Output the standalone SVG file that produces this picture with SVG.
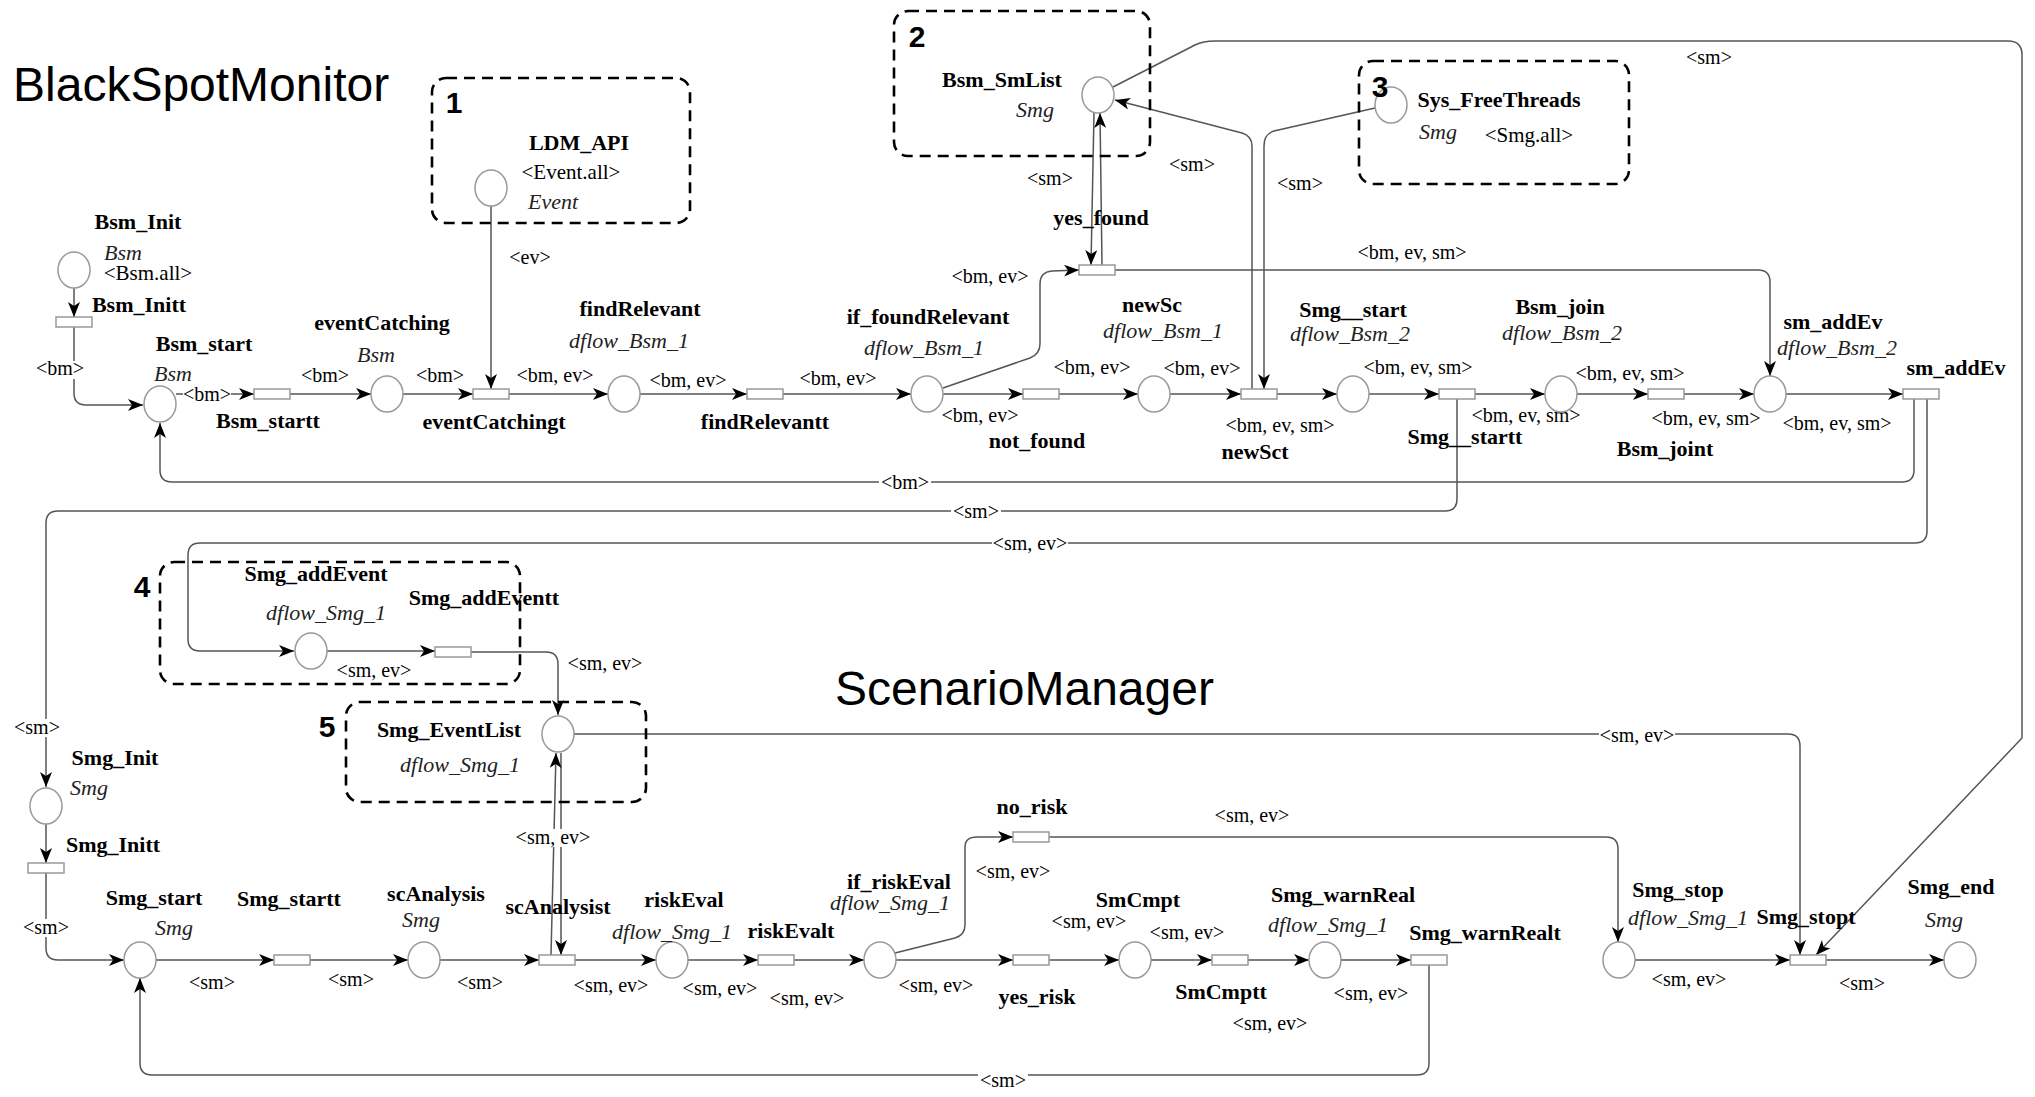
<svg xmlns="http://www.w3.org/2000/svg" width="2035" height="1097" viewBox="0 0 2035 1097">
<defs>
<marker id="ah" markerWidth="16" markerHeight="12" refX="15" refY="6" orient="auto" markerUnits="userSpaceOnUse"><path d="M0,0 L15,6 L0,12 L4,6 Z" fill="#000"/></marker>
<style>
.e{fill:none;stroke:#555;stroke-width:1.5}
.a{marker-end:url(#ah)}
.p{fill:#fff;stroke:#999;stroke-width:1.5}
.t{fill:#fff;stroke:#999;stroke-width:1.5}
.bg{fill:#fff;stroke:none}
.box{fill:none;stroke:#000;stroke-width:2.6;stroke-dasharray:11 7}
.n{font-family:"Liberation Serif",serif;font-weight:bold;font-size:22px;text-anchor:middle;fill:#000}
.i{font-family:"Liberation Serif",serif;font-style:italic;font-size:22px;text-anchor:middle;fill:#222}
.m{font-family:"Liberation Serif",serif;font-size:21px;text-anchor:middle;fill:#000}
.l{font-family:"Liberation Serif",serif;font-size:20px;text-anchor:middle;fill:#000}
.title{font-family:"Liberation Sans",Arial,sans-serif;font-size:48px;fill:#000}
.num{font-family:"Liberation Sans",Arial,sans-serif;font-weight:bold;font-size:30px;text-anchor:middle;fill:#000}
</style>
</defs>
<rect width="2035" height="1097" fill="#fff"/>
<text class="title" x="13" y="101">BlackSpotMonitor</text>
<text class="title" x="835" y="705">ScenarioManager</text>

<g id="connectors">
<path class="e a" d="M74,288 V317"/>
<path class="e a" d="M74,327 V393 Q74,405 86,405 H143"/>
<path class="e a" d="M176,394 H254"/>
<path class="e a" d="M290,394 H371"/>
<path class="e a" d="M403,394 H473"/>
<path class="e a" d="M491,206 V389"/>
<path class="e a" d="M509,394 H608"/>
<path class="e a" d="M640,394 H747"/>
<path class="e a" d="M783,394 H911"/>
<path class="e a" d="M943,394 H1023"/>
<path class="e a" d="M1059,394 H1138"/>
<path class="e a" d="M1170,394 H1241"/>
<path class="e a" d="M1277,394 H1337"/>
<path class="e a" d="M1369,394 H1439"/>
<path class="e a" d="M1475,394 H1545"/>
<path class="e a" d="M1577,394 H1648"/>
<path class="e a" d="M1684,394 H1754"/>
<path class="e a" d="M1786,394 H1903"/>
<path class="e a" d="M943,388 L1030,358 Q1040,354 1040,344 V284 Q1040,272 1052,271 L1079,270"/>
<path class="e a" d="M1115,270 H1758 Q1770,270 1770,282 V376"/>
<path class="e a" d="M1094,113 L1091,265"/>
<path class="e a" d="M1102,265 L1100,113"/>
<path class="e a" d="M1252,389 V146 Q1252,136 1242,133 L1115,100"/>
<path class="e a" d="M1375,108 L1274,131 Q1264,134 1264,146 V389"/>
<path class="e a" d="M1113,87 L1195,45 Q1203,41 1215,41 H2008 Q2022,41 2022,55 V738 L1816,955"/>
<path class="e a" d="M1914,399 V470 Q1914,482 1902,482 H172 Q160,482 160,470 V423"/>
<path class="e a" d="M1457,399 V499 Q1457,511 1445,511 H58 Q46,511 46,523 V787"/>
<path class="e a" d="M1927,399 V531 Q1927,543 1915,543 H200 Q188,543 188,555 V639 Q188,651 200,651 H294"/>
<path class="e a" d="M327,651 H435"/>
<path class="e a" d="M471,652 H546 Q558,652 558,664 V715"/>
<path class="e a" d="M574,734 H1788 Q1800,734 1800,746 V955"/>
<path class="e a" d="M561,753 L561,955"/>
<path class="e a" d="M551,955 L556,753"/>
<path class="e a" d="M46,824 V863"/>
<path class="e a" d="M46,873 V948 Q46,960 58,960 H124"/>
<path class="e a" d="M156,960 H274"/>
<path class="e a" d="M310,960 H408"/>
<path class="e a" d="M440,960 H539"/>
<path class="e a" d="M575,960 H656"/>
<path class="e a" d="M688,960 H758"/>
<path class="e a" d="M794,960 H864"/>
<path class="e a" d="M896,960 H1013"/>
<path class="e a" d="M895,953 L955,938 Q965,935 965,925 V847 Q965,837 977,837 H1013"/>
<path class="e a" d="M1049,960 H1119"/>
<path class="e a" d="M1151,960 H1212"/>
<path class="e a" d="M1248,960 H1309"/>
<path class="e a" d="M1341,960 H1411"/>
<path class="e a" d="M1429,965 V1063 Q1429,1075 1417,1075 H152 Q140,1075 140,1063 V978"/>
<path class="e a" d="M1049,837 H1606 Q1618,837 1618,849 V942"/>
<path class="e a" d="M1635,960 H1790"/>
<path class="e a" d="M1826,960 H1944"/>

<rect class="bg" x="36" y="361" width="48" height="18"/>
<rect class="bg" x="183" y="387" width="48" height="16"/>
<rect class="bg" x="879" y="474" width="52" height="16"/>
<rect class="bg" x="951" y="503" width="50" height="16"/>
<rect class="bg" x="992" y="535" width="76" height="16"/>
<rect class="bg" x="13" y="719" width="48" height="18"/>
<rect class="bg" x="1599" y="726" width="76" height="16"/>
<rect class="bg" x="515" y="829" width="76" height="18"/>
<rect class="bg" x="22" y="919" width="48" height="18"/>
<rect class="bg" x="978" y="1067" width="50" height="16"/>

<text class="l" x="60" y="375">&lt;bm&gt;</text>
<text class="l" x="207" y="401">&lt;bm&gt;</text>
<text class="l" x="325" y="382">&lt;bm&gt;</text>
<text class="l" x="440" y="382">&lt;bm&gt;</text>
<text class="l" x="530" y="264">&lt;ev&gt;</text>
<text class="l" x="555" y="382">&lt;bm, ev&gt;</text>
<text class="l" x="688" y="387">&lt;bm, ev&gt;</text>
<text class="l" x="838" y="385">&lt;bm, ev&gt;</text>
<text class="l" x="980" y="422">&lt;bm, ev&gt;</text>
<text class="l" x="1092" y="374">&lt;bm, ev&gt;</text>
<text class="l" x="1202" y="375">&lt;bm, ev&gt;</text>
<text class="l" x="990" y="283">&lt;bm, ev&gt;</text>
<text class="l" x="1280" y="432">&lt;bm, ev, sm&gt;</text>
<text class="l" x="1418" y="374">&lt;bm, ev, sm&gt;</text>
<text class="l" x="1526" y="422">&lt;bm, ev, sm&gt;</text>
<text class="l" x="1630" y="380">&lt;bm, ev, sm&gt;</text>
<text class="l" x="1706" y="425">&lt;bm, ev, sm&gt;</text>
<text class="l" x="1837" y="430">&lt;bm, ev, sm&gt;</text>
<text class="l" x="1412" y="259">&lt;bm, ev, sm&gt;</text>
<text class="l" x="1050" y="185">&lt;sm&gt;</text>
<text class="l" x="1192" y="171">&lt;sm&gt;</text>
<text class="l" x="1300" y="190">&lt;sm&gt;</text>
<text class="l" x="1709" y="64">&lt;sm&gt;</text>
<text class="l" x="905" y="489">&lt;bm&gt;</text>
<text class="l" x="976" y="518">&lt;sm&gt;</text>
<text class="l" x="1030" y="550">&lt;sm, ev&gt;</text>
<text class="l" x="37" y="734">&lt;sm&gt;</text>
<text class="l" x="374" y="677">&lt;sm, ev&gt;</text>
<text class="l" x="605" y="670">&lt;sm, ev&gt;</text>
<text class="l" x="1637" y="742">&lt;sm, ev&gt;</text>
<text class="l" x="553" y="844">&lt;sm, ev&gt;</text>
<text class="l" x="46" y="934">&lt;sm&gt;</text>
<text class="l" x="212" y="989">&lt;sm&gt;</text>
<text class="l" x="351" y="986">&lt;sm&gt;</text>
<text class="l" x="480" y="989">&lt;sm&gt;</text>
<text class="l" x="611" y="992">&lt;sm, ev&gt;</text>
<text class="l" x="720" y="995">&lt;sm, ev&gt;</text>
<text class="l" x="807" y="1005">&lt;sm, ev&gt;</text>
<text class="l" x="936" y="992">&lt;sm, ev&gt;</text>
<text class="l" x="1013" y="878">&lt;sm, ev&gt;</text>
<text class="l" x="1252" y="822">&lt;sm, ev&gt;</text>
<text class="l" x="1089" y="928">&lt;sm, ev&gt;</text>
<text class="l" x="1187" y="939">&lt;sm, ev&gt;</text>
<text class="l" x="1270" y="1030">&lt;sm, ev&gt;</text>
<text class="l" x="1371" y="1000">&lt;sm, ev&gt;</text>
<text class="l" x="1689" y="986">&lt;sm, ev&gt;</text>
<text class="l" x="1862" y="990">&lt;sm&gt;</text>
<text class="l" x="1003" y="1087">&lt;sm&gt;</text>
</g>

<g id="Bsm_Init"><ellipse class="p" cx="74" cy="270" rx="16" ry="18"/><text class="n" x="138" y="229">Bsm_Init</text><text class="i" x="123" y="260">Bsm</text><text class="m" x="148" y="280">&lt;Bsm.all&gt;</text></g>
<g id="Bsm_Initt"><rect class="t" x="56" y="317" width="36" height="10"/><text class="n" x="139" y="312">Bsm_Initt</text></g>
<g id="Bsm_start"><ellipse class="p" cx="160" cy="404" rx="16" ry="18"/><text class="n" x="204" y="351">Bsm_start</text><text class="i" x="173" y="381">Bsm</text></g>
<g id="Bsm_startt"><rect class="t" x="254" y="389" width="36" height="10"/><text class="n" x="268" y="428">Bsm_startt</text></g>
<g id="eventCatching"><ellipse class="p" cx="387" cy="394" rx="16" ry="18"/><text class="n" x="382" y="330">eventCatching</text><text class="i" x="376" y="362">Bsm</text></g>
<g id="eventCatchingt"><rect class="t" x="473" y="389" width="36" height="10"/><text class="n" x="494" y="429">eventCatchingt</text></g>
<g id="LDM_API"><ellipse class="p" cx="491" cy="188" rx="16" ry="18"/><text class="n" x="579" y="150">LDM_API</text><text class="m" x="571" y="179">&lt;Event.all&gt;</text><text class="i" x="553" y="209">Event</text></g>
<g id="findRelevant"><ellipse class="p" cx="624" cy="394" rx="16" ry="18"/><text class="n" x="640" y="316">findRelevant</text><text class="i" x="629" y="348">dflow_Bsm_1</text></g>
<g id="findRelevantt"><rect class="t" x="747" y="389" width="36" height="10"/><text class="n" x="765" y="429">findRelevantt</text></g>
<g id="if_foundRelevant"><ellipse class="p" cx="927" cy="394" rx="16" ry="18"/><text class="n" x="928" y="324">if_foundRelevant</text><text class="i" x="924" y="355">dflow_Bsm_1</text></g>
<g id="not_found"><rect class="t" x="1023" y="389" width="36" height="10"/><text class="n" x="1037" y="448">not_found</text></g>
<g id="yes_found"><rect class="t" x="1079" y="265" width="36" height="10"/><text class="n" x="1101" y="225">yes_found</text></g>
<g id="newSc"><ellipse class="p" cx="1154" cy="394" rx="16" ry="18"/><text class="n" x="1152" y="312">newSc</text><text class="i" x="1163" y="338">dflow_Bsm_1</text></g>
<g id="newSct"><rect class="t" x="1241" y="389" width="36" height="10"/><text class="n" x="1255" y="459">newSct</text></g>
<g id="Bsm_SmList"><ellipse class="p" cx="1098" cy="95" rx="16" ry="18"/><text class="n" x="1002" y="87">Bsm_SmList</text><text class="i" x="1035" y="117">Smg</text></g>
<g id="Sys_FreeThreads"><ellipse class="p" cx="1391" cy="105" rx="16" ry="18"/><text class="n" x="1499" y="107">Sys_FreeThreads</text><text class="i" x="1438" y="139">Smg</text><text class="m" x="1529" y="142">&lt;Smg.all&gt;</text></g>
<g id="Smg__start"><ellipse class="p" cx="1353" cy="394" rx="16" ry="18"/><text class="n" x="1353" y="317">Smg__start</text><text class="i" x="1350" y="341">dflow_Bsm_2</text></g>
<g id="Smg__startt"><rect class="t" x="1439" y="389" width="36" height="10"/><text class="n" x="1465" y="444">Smg__startt</text></g>
<g id="Bsm_join"><ellipse class="p" cx="1561" cy="394" rx="16" ry="18"/><text class="n" x="1560" y="314">Bsm_join</text><text class="i" x="1562" y="340">dflow_Bsm_2</text></g>
<g id="Bsm_joint"><rect class="t" x="1648" y="389" width="36" height="10"/><text class="n" x="1665" y="456">Bsm_joint</text></g>
<g id="sm_addEv_place"><ellipse class="p" cx="1770" cy="394" rx="16" ry="18"/><text class="n" x="1833" y="329">sm_addEv</text><text class="i" x="1837" y="355">dflow_Bsm_2</text></g>
<g id="sm_addEv_trans"><rect class="t" x="1903" y="389" width="36" height="10"/><text class="n" x="1956" y="375">sm_addEv</text></g>

<g id="Smg_addEvent"><ellipse class="p" cx="311" cy="651" rx="16" ry="18"/><text class="n" x="316" y="581">Smg_addEvent</text><text class="i" x="326" y="620">dflow_Smg_1</text></g>
<g id="Smg_addEventt"><rect class="t" x="435" y="647" width="36" height="10"/><text class="n" x="484" y="605">Smg_addEventt</text></g>
<g id="Smg_EventList"><ellipse class="p" cx="558" cy="734" rx="16" ry="18"/><text class="n" x="449" y="737">Smg_EventList</text><text class="i" x="460" y="772">dflow_Smg_1</text></g>
<g id="Smg_Init"><ellipse class="p" cx="46" cy="806" rx="16" ry="18"/><text class="n" x="115" y="765">Smg_Init</text><text class="i" x="89" y="795">Smg</text></g>
<g id="Smg_Initt"><rect class="t" x="28" y="863" width="36" height="10"/><text class="n" x="113" y="852">Smg_Initt</text></g>
<g id="Smg_start"><ellipse class="p" cx="140" cy="960" rx="16" ry="18"/><text class="n" x="154" y="905">Smg_start</text><text class="i" x="174" y="935">Smg</text></g>
<g id="Smg_startt"><rect class="t" x="274" y="955" width="36" height="10"/><text class="n" x="289" y="906">Smg_startt</text></g>
<g id="scAnalysis"><ellipse class="p" cx="424" cy="960" rx="16" ry="18"/><text class="n" x="436" y="901">scAnalysis</text><text class="i" x="421" y="927">Smg</text></g>
<g id="scAnalysist"><rect class="t" x="539" y="955" width="36" height="10"/><text class="n" x="558" y="914">scAnalysist</text></g>
<g id="riskEval"><ellipse class="p" cx="672" cy="960" rx="16" ry="18"/><text class="n" x="684" y="907">riskEval</text><text class="i" x="672" y="939">dflow_Smg_1</text></g>
<g id="riskEvalt"><rect class="t" x="758" y="955" width="36" height="10"/><text class="n" x="791" y="938">riskEvalt</text></g>
<g id="if_riskEval"><ellipse class="p" cx="880" cy="960" rx="16" ry="18"/><text class="n" x="899" y="889">if_riskEval</text><text class="i" x="890" y="910">dflow_Smg_1</text></g>
<g id="no_risk"><rect class="t" x="1013" y="832" width="36" height="10"/><text class="n" x="1032" y="814">no_risk</text></g>
<g id="yes_risk"><rect class="t" x="1013" y="955" width="36" height="10"/><text class="n" x="1037" y="1004">yes_risk</text></g>
<g id="SmCmpt"><ellipse class="p" cx="1135" cy="960" rx="16" ry="18"/><text class="n" x="1138" y="907">SmCmpt</text></g>
<g id="SmCmptt"><rect class="t" x="1212" y="955" width="36" height="10"/><text class="n" x="1221" y="999">SmCmptt</text></g>
<g id="Smg_warnReal"><ellipse class="p" cx="1325" cy="960" rx="16" ry="18"/><text class="n" x="1343" y="902">Smg_warnReal</text><text class="i" x="1328" y="932">dflow_Smg_1</text></g>
<g id="Smg_warnRealt"><rect class="t" x="1411" y="955" width="36" height="10"/><text class="n" x="1485" y="940">Smg_warnRealt</text></g>
<g id="Smg_stop"><ellipse class="p" cx="1619" cy="960" rx="16" ry="18"/><text class="n" x="1678" y="897">Smg_stop</text><text class="i" x="1688" y="925">dflow_Smg_1</text></g>
<g id="Smg_stopt"><rect class="t" x="1790" y="955" width="36" height="10"/><text class="n" x="1806" y="924">Smg_stopt</text></g>
<g id="Smg_end"><ellipse class="p" cx="1960" cy="960" rx="16" ry="18"/><text class="n" x="1951" y="894">Smg_end</text><text class="i" x="1944" y="927">Smg</text></g>

<g id="boxes">
<rect class="box" x="432" y="78" width="258" height="145" rx="14"/>
<text class="num" x="454" y="113">1</text>
<rect class="box" x="894" y="11" width="256" height="145" rx="14"/>
<text class="num" x="917" y="47">2</text>
<rect class="box" x="1359" y="61" width="270" height="123" rx="14"/>
<text class="num" x="1380" y="97">3</text>
<rect class="box" x="160" y="562" width="360" height="122" rx="14"/>
<text class="num" x="142" y="597">4</text>
<rect class="box" x="346" y="702" width="300" height="100" rx="14"/>
<text class="num" x="327" y="737">5</text>
</g>
</svg>
